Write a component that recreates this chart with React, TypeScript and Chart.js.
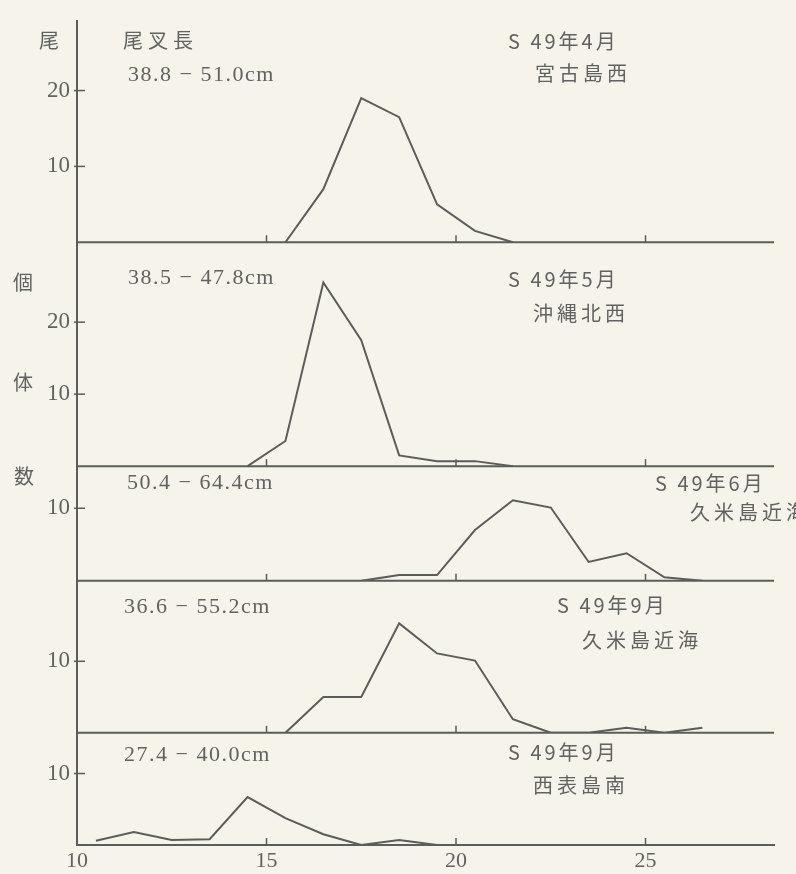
import { useEffect, useRef } from 'react';
import { Chart, registerables } from 'chart.js';

Chart.register(...registerables);

// ---- data (class mid-points and counts per panel) ----
const panel1X = [15.5, 16.5, 17.5, 18.5, 19.5, 20.5, 21.5];
const panel1N = [0, 7, 19, 16.5, 5, 1.5, 0];

const panel2X = [14.5, 15.5, 16.5, 17.5, 18.5, 19.5, 20.5, 21.5];
const panel2N = [0, 3.5, 25.5, 17.5, 1.5, 0.7, 0.7, 0];

const panel3X = [17.5, 18.5, 19.5, 20.5, 21.5, 22.5, 23.5, 24.5, 25.5, 26.5];
const panel3N = [0, 0.8, 0.8, 7, 11.1, 10.1, 2.6, 3.8, 0.5, 0];

const panel4X = [15.5, 16.5, 17.5, 18.5, 19.5, 20.5, 21.5, 22.5, 23.5, 24.5, 25.5, 26.5];
const panel4N = [0, 5, 5, 15.3, 11.1, 10.1, 1.9, 0, 0, 0.7, 0, 0.7];

const panel5X = [10.5, 11.5, 12.5, 13.5, 14.5, 15.5, 16.5, 17.5, 18.5, 19.5];
const panel5N = [0.6, 1.8, 0.7, 0.8, 6.7, 3.75, 1.5, 0, 0.7, 0];

const xTickLabels = [10, 15, 20, 25];
const xInnerTicks = [15, 20, 25];
const xMin = 10;
const xMax = 28.39;

const yTicks1 = [10, 20];
const yTicks2 = [10, 20];
const yTicks3 = [10];
const yTicks4 = [10];
const yTicks5 = [10];
const yMaxes = [29.2, 31.1, 15.8, 21.25, 15.7];

const rangeLabels = ['38.8 − 51.0cm', '38.5 − 47.8cm', '50.4 − 64.4cm', '36.6 − 55.2cm', '27.4 − 40.0cm'];
const monthLabels = ['S 49年4月', 'S 49年5月', 'S 49年6月', 'S 49年9月', 'S 49年9月'];
const areaLabels = ['宮古島西', '沖縄北西', '久米島近海', '久米島近海', '西表島南'];
const fieldTitle = '尾叉長';
const yTitleChars = ['尾', '個', '体', '数'];

// ---- layout / style ----
const PAPER = '#f5f3ea';
const INK = '#5c5c59';
const TEXT = '#626260';
const PANEL_HEIGHTS = [223, 225.5, 115.5, 153, 113];
const TEXT_POS = [
  { range: [128, 75], month: [508, 41], area: [535, 73] },
  { range: [128, 278], month: [508, 279], area: [533, 313] },
  { range: [127, 483], month: [655, 483], area: [690, 512] },
  { range: [124, 607], month: [557, 605], area: [582, 640] },
  { range: [124, 755], month: [508, 752], area: [533, 785] },
];
const TITLE_POS = [123, 40];
const YTITLE_POS = [[49, 40], [23, 282], [23, 382], [24, 476]];

const panels = [
  { x: panel1X, n: panel1N, yTicks: yTicks1 },
  { x: panel2X, n: panel2N, yTicks: yTicks2 },
  { x: panel3X, n: panel3N, yTicks: yTicks3 },
  { x: panel4X, n: panel4N, yTicks: yTicks4 },
  { x: panel5X, n: panel5N, yTicks: yTicks5 },
];

const SERIF = '"Liberation Serif", "DejaVu Serif", serif';
const CJK = '"Noto Sans CJK JP", "Noto Sans", sans-serif';

function drawText(ctx: CanvasRenderingContext2D, text: string, x: number, y: number, font: string, spacing: string) {
  ctx.font = font;
  (ctx as any).letterSpacing = spacing;
  ctx.fillText(text, x, y);
}

const paperPlugin = {
  id: 'paperPlugin',
  beforeDraw(chart: any) {
    const { ctx, width, height } = chart;
    ctx.save();
    ctx.fillStyle = PAPER;
    ctx.fillRect(0, 0, width, height);
    ctx.restore();
  },
  beforeDatasetsDraw(chart: any) {
    const ctx: CanvasRenderingContext2D = chart.ctx;
    const xs = chart.scales.x;
    const area = chart.chartArea;
    ctx.save();
    ctx.strokeStyle = INK;
    panels.forEach((p, i) => {
      const ys = chart.scales['y' + i];
      const y0 = ys.getPixelForValue(0);
      ctx.lineWidth = 2;
      ctx.beginPath();
      ctx.moveTo(area.left, y0);
      ctx.lineTo(area.right, y0);
      ctx.stroke();
      ctx.lineWidth = 1.5;
      xInnerTicks.forEach((v) => {
        const x = xs.getPixelForValue(v);
        ctx.beginPath();
        ctx.moveTo(x, y0);
        ctx.lineTo(x, y0 - 7);
        ctx.stroke();
      });
      p.yTicks.forEach((v) => {
        const y = ys.getPixelForValue(v);
        ctx.beginPath();
        ctx.moveTo(area.left - 3, y);
        ctx.lineTo(area.left + 8, y);
        ctx.stroke();
      });
    });
    ctx.restore();
  },
  afterDraw(chart: any) {
    const ctx: CanvasRenderingContext2D = chart.ctx;
    ctx.save();
    ctx.fillStyle = TEXT;
    ctx.textAlign = 'left';
    ctx.textBaseline = 'middle';
    drawText(ctx, fieldTitle, TITLE_POS[0], TITLE_POS[1], `20px ${CJK}`, '5px');
    yTitleChars.forEach((c, i) => {
      drawText(ctx, c, YTITLE_POS[i][0] - 10, YTITLE_POS[i][1], `20px ${CJK}`, '0px');
    });
    panels.forEach((_, i) => {
      const pos = TEXT_POS[i];
      drawText(ctx, rangeLabels[i], pos.range[0], pos.range[1], `22px ${SERIF}`, '1.5px');
      drawText(ctx, monthLabels[i], pos.month[0], pos.month[1], `20px ${CJK}`, '3px');
      drawText(ctx, areaLabels[i], pos.area[0], pos.area[1], `20px ${CJK}`, '4px');
    });
    ctx.restore();
  },
};

export default function App() {
  const canvasRef = useRef<HTMLCanvasElement | null>(null);

  useEffect(() => {
    document.body.style.margin = '0';
    document.body.style.background = PAPER;
    const canvas = canvasRef.current;
    if (!canvas) return;

    const scales: any = {
      x: {
        type: 'linear',
        min: xMin,
        max: xMax,
        grid: { display: false, drawTicks: false },
        border: { display: true, color: INK, width: 2 },
        ticks: {
          color: TEXT,
          font: { family: SERIF, size: 22 },
          padding: 3,
          autoSkip: false,
          maxRotation: 0,
        },
        afterBuildTicks: (s: any) => {
          s.ticks = xTickLabels.map((v) => ({ value: v }));
        },
        afterFit: (s: any) => {
          s.height = 29;
        },
      },
    };

    panels.forEach((p, i) => {
      scales['y' + i] = {
        type: 'linear',
        position: 'left',
        stack: 'panels',
        stackWeight: PANEL_HEIGHTS[i],
        weight: panels.length - i,
        min: 0,
        max: yMaxes[i],
        grid: { display: false, drawTicks: false },
        border: { display: true, color: INK, width: 2 },
        ticks: {
          color: TEXT,
          font: { family: SERIF, size: 23 },
          padding: 7,
          callback: (v: any) => (p.yTicks.includes(v) ? String(v) : ''),
        },
        afterBuildTicks: (s: any) => {
          s.ticks = p.yTicks.map((v) => ({ value: v }));
        },
        afterFit: (s: any) => {
          s.width = 77;
        },
      };
    });

    const chart = new Chart(canvas, {
      type: 'line',
      data: {
        datasets: panels.map((p, i) => ({
          data: p.x.map((x, j) => ({ x, y: p.n[j] })),
          yAxisID: 'y' + i,
          xAxisID: 'x',
          borderColor: INK,
          borderWidth: 2,
          pointRadius: 0,
          tension: 0,
          fill: false,
        })),
      },
      options: {
        responsive: false,
        animation: false,
        layout: { padding: { top: 15, right: 22, left: 0, bottom: 0 } },
        plugins: { legend: { display: false }, tooltip: { enabled: false } },
        scales,
      },
      plugins: [paperPlugin],
    } as any);

    return () => chart.destroy();
  }, []);

  return (
    <div style={{ width: 796, height: 874, background: PAPER }}>
      <canvas ref={canvasRef} width={796} height={874} style={{ display: 'block' }} />
    </div>
  );
}
